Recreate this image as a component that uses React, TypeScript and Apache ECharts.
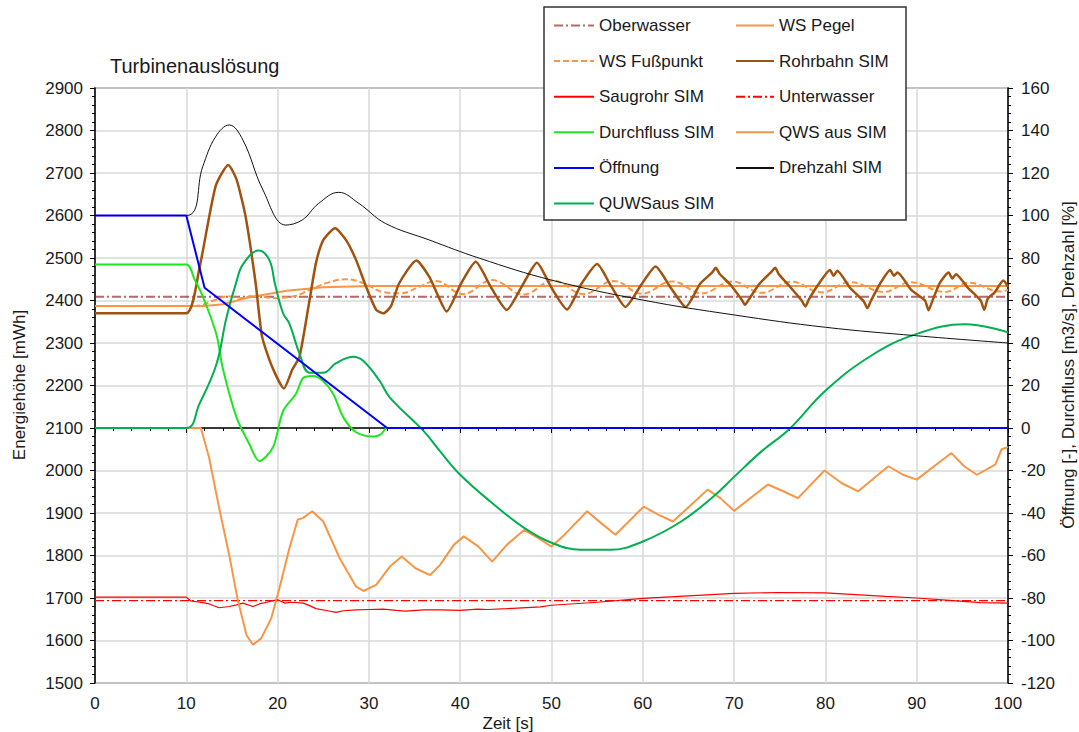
import React, { useEffect, useRef } from "react";
import * as echarts from "echarts";

// Zeitachse und Werte der einzelnen Messreihen (Zeit in s)
const oberwasserT = [0, 100];
const oberwasserV = [2409, 2409];

const unterwasserT = [0, 100];
const unterwasserV = [1694, 1694];

const wsPegelT = [0, 12, 14, 17, 21, 25, 30, 100];
const wsPegelV = [2387, 2387, 2391, 2408, 2423, 2431, 2434, 2434];

const wsFussT = [0, 11, 13, 14.5, 16, 17.5, 19.5, 21.8, 23.5, 25.5, 27.5, 29.5, 31.5, 33.5, 35.5, 37.3, 40.3, 43.5, 46.9, 50.2, 53.5, 56.8, 59.9, 63.2, 66.5, 69.8, 73.0, 76.3, 79.6, 82.7, 86.4, 89.3, 93.1, 95.7, 99.2, 100];
const wsFussV = [2387, 2387, 2400, 2410, 2406, 2411, 2406, 2410, 2425, 2442, 2450, 2440, 2420, 2417, 2432, 2446, 2415, 2448, 2414, 2447, 2415, 2446, 2416, 2445, 2417, 2445, 2418, 2444, 2419, 2443, 2420, 2443, 2420, 2442, 2421, 2425];

const rohrbahnT = [0, 10, 11.4, 13.2, 14.6, 15.5, 16.5, 17.6, 18.3, 19.4, 20.7, 21.6, 22.4, 23.5, 24.2, 25, 26.3, 27.5, 28.6, 29.7, 30.8, 31.6, 32.4, 33.3, 35.2, 36.6, 37.7, 38.5, 40.1, 41.7, 43.4, 45.1, 46.8, 48.4, 50, 51.7, 53.3, 55, 56.5, 58.1, 59.8, 61.4, 63, 64.7, 66.3, 67.6, 68, 68.4, 69.6, 70.8, 71.2, 71.6, 72.8, 74.1, 74.5, 74.9, 76.1, 77.4, 77.8, 78.2, 79.3, 80.5, 80.9, 81.3, 82.7, 84.2, 84.6, 85, 86, 87.1, 87.5, 87.9, 89.4, 90.9, 91.3, 91.7, 92.5, 93.5, 93.9, 94.3, 95.6, 97, 97.4, 97.8, 98.5, 99.5, 100];
const rohrbahnV = [2370, 2370, 2472, 2668, 2719, 2685, 2597, 2440, 2315, 2244, 2193, 2237, 2268, 2401, 2488, 2542, 2570, 2542, 2495, 2432, 2378, 2370, 2386, 2440, 2494, 2456, 2405, 2374, 2440, 2491, 2430, 2378, 2435, 2489, 2430, 2379, 2440, 2486, 2435, 2385, 2436, 2480, 2432, 2385, 2440, 2466, 2477, 2463, 2437, 2403, 2390, 2402, 2440, 2468, 2477, 2462, 2433, 2400, 2386, 2403, 2440, 2472, 2458, 2470, 2430, 2398, 2382, 2400, 2440, 2472, 2458, 2466, 2425, 2400, 2377, 2398, 2440, 2466, 2452, 2462, 2430, 2400, 2378, 2405, 2418, 2447, 2432];

const saugrohrT = [0, 10, 10.5, 11.8, 12.5, 13.6, 14.7, 15.5, 16.2, 17.3, 18, 18.8, 20, 20.8, 21.5, 22.8, 23.5, 24.2, 25.5, 26.4, 27.2, 28.6, 30, 31.6, 33, 34, 36, 37.8, 40, 41.9, 43, 45.1, 48.8, 50, 55, 60, 65, 70, 75, 80, 86.6, 90, 94, 97, 100];
const saugrohrV = [1702, 1702, 1693, 1689, 1686, 1677, 1680, 1684, 1688, 1680, 1686, 1690, 1696, 1688, 1690, 1688, 1682, 1675, 1670, 1666, 1670, 1672, 1673, 1674, 1671, 1669, 1672, 1672, 1671, 1674, 1673, 1675, 1679, 1683, 1690, 1699, 1705, 1711, 1713, 1712, 1704, 1700, 1694, 1689, 1688];

// rechte Achse: Öffnung, Durchfluss, Drehzahl
const durchflussT = [0, 10, 10.9, 11.8, 13.3, 14, 15.5, 16.9, 18, 19.5, 20.6, 22, 22.8, 23.9, 25, 26.1, 27.2, 28.6, 30.5, 31.3, 32, 100];
const durchflussV = [77, 77, 70, 62, 44, 28, 5, -7.5, -15.5, -9, 8, 16, 23.5, 24.5, 22, 16, 5, -2, -4, -3, 0, 0];

const oeffnungT = [0, 10, 12, 32, 100];
const oeffnungV = [100, 100, 66, 0, 0];

const drehzahlT = [0, 10, 11.8, 13.2, 14.7, 16.2, 18.4, 20.9, 22.7, 24.5, 26.7, 28.9, 31.8, 36.6, 42.1, 50, 60, 70, 80, 90, 100];
const drehzahlV = [100, 100, 123, 137, 142.6, 135.5, 112, 95.5, 97.9, 105.7, 110.9, 105.7, 96.3, 88.5, 79.9, 69.6, 60.2, 53.2, 47.4, 43.4, 40];

const quwsT = [0, 10, 11.4, 13.3, 14.4, 15.5, 16.2, 17.9, 19.1, 19.7, 20.6, 21.3, 22.4, 23.5, 25, 26.4, 28.3, 29.4, 31.2, 32.3, 36, 37.8, 40, 43.3, 47, 50, 53.2, 56.5, 60, 64.2, 67.8, 70, 73, 76, 80, 85, 90, 95.3, 100];
const quwsV = [0, 0, 11, 30, 52, 69, 77, 83.5, 79, 68, 54, 49, 35, 26, 26, 30.5, 33.5, 31.5, 22, 14.3, -1.5, -11, -22, -34.6, -47, -54, -57.3, -57.3, -53.4, -44, -32, -23, -11, -0.7, 17.5, 34, 44.3, 48.8, 45];

const qwsT = [0, 11.6, 12.5, 13.6, 14.7, 15.6, 16.6, 17.3, 18.2, 19.3, 20.2, 21.3, 22.2, 22.8, 23.8, 25, 26.8, 28.6, 29.4, 30.8, 32.3, 33.6, 35.1, 36.7, 37.8, 39.3, 40.4, 42, 43.5, 45.1, 47, 48.6, 50, 51.4, 53.9, 55.5, 57, 60.1, 61.8, 63.3, 67.1, 68.5, 70, 73.7, 75.5, 77, 79.9, 81.8, 83.6, 86.9, 88.5, 90, 93.8, 95.2, 96.6, 98.6, 99.3, 100];
const qwsV = [0, 0, -14, -37.7, -59.8, -80.2, -97.5, -102, -99, -89.6, -75.4, -56.5, -43.2, -42.3, -39.2, -44, -61.3, -74.7, -76.7, -73.8, -65.2, -60.5, -66, -69.2, -64.4, -55, -51, -55.8, -62.9, -55, -48, -52, -55.8, -50.3, -39.2, -45, -50.2, -37, -41, -44, -29, -33, -39, -26.6, -30, -33, -20, -26, -29.8, -18, -22, -24.3, -11.8, -18, -22, -17.2, -10, -9];

const xTicks = { min: 0, max: 100, interval: 10 };
const leftTicks = { min: 1500, max: 2900, interval: 100 };
const rightTicks = { min: -120, max: 160, interval: 20 };

const zip = (t: number[], v: number[]) => t.map((x, i) => [x, v[i]]);

const ORANGE = "#f79646";
const FONT = "'Liberation Sans', Arial, sans-serif";

export default function App() {
  const ref = useRef<HTMLDivElement>(null);

  useEffect(() => {
    if (!ref.current) return;
    const chart = echarts.init(ref.current, undefined, { renderer: "svg" });

    const line = (
      name: string,
      t: number[],
      v: number[],
      color: string,
      width: number,
      yAxisIndex: number,
      type: any = "solid",
      smooth: number | boolean = false,
      opacity = 1
    ) => ({
      name,
      type: "line",
      yAxisIndex,
      data: zip(t, v),
      symbol: "none",
      smooth,
      color,
      lineStyle: { color, width, type, opacity },
      emphasis: { disabled: true },
    });

    const axisCommon = {
      axisLine: { show: true, lineStyle: { color: "#000", width: 1.5 } },
      axisTick: { show: true, length: 5, lineStyle: { color: "#000", width: 1 } },
      minorTick: { show: true, splitNumber: 5, length: 3, lineStyle: { color: "#000", width: 1 } },
      axisLabel: {
        color: "#1a1a1a",
        fontSize: 17,
        fontFamily: FONT,
        formatter: (v: number) => String(v),
      },
    };

    const legendCommon = {
      top: 17,
      orient: "vertical",
      itemHeight: 14,
      itemGap: 18.6,
      padding: 0,
      z: 20,
      selectedMode: false,
      itemStyle: { opacity: 0 },
      textStyle: { fontSize: 17, color: "#1a1a1a", fontFamily: FONT },
    };

    chart.setOption({
      animation: false,
      textStyle: { fontFamily: FONT },
      grid: {
        left: 95,
        right: 71,
        top: 88,
        bottom: 49,
        show: true,
        borderColor: "#555",
        borderWidth: 1.5,
        backgroundColor: "transparent",
      },
      xAxis: {
        type: "value",
        ...xTicks,
        ...axisCommon,
        axisLabel: { ...axisCommon.axisLabel, margin: 12 },
        splitLine: { show: true, lineStyle: { color: "#d9d9d9", width: 1.5 } },
      },
      yAxis: [
        {
          type: "value",
          position: "left",
          ...leftTicks,
          ...axisCommon,
          axisLabel: { ...axisCommon.axisLabel, margin: 12 },
          splitLine: { show: true, lineStyle: { color: "#d9d9d9", width: 1.5 } },
        },
        {
          type: "value",
          position: "right",
          ...rightTicks,
          ...axisCommon,
          axisLabel: { ...axisCommon.axisLabel, margin: 13 },
          splitLine: { show: false },
        },
      ],
      legend: [
        {
          ...legendCommon,
          left: 553,
          itemWidth: 40,
          data: ["Oberwasser", "WS Fußpunkt", "Saugrohr SIM", "Durchfluss SIM", "Öffnung", "QUWSaus SIM"],
        },
        {
          ...legendCommon,
          left: 735,
          itemWidth: 38,
          data: ["WS Pegel", "Rohrbahn SIM", "Unterwasser", "QWS aus SIM", "Drehzahl SIM"],
        },
      ],
      graphic: [
        {
          type: "rect",
          z: 10,
          shape: { x: 544, y: 7, width: 362, height: 213 },
          style: { fill: "#fff", stroke: "#333", lineWidth: 1.5 },
        },
        {
          type: "text",
          x: 110,
          y: 66,
          style: {
            text: "Turbinenauslösung",
            fontSize: 20,
            fontFamily: FONT,
            fill: "#1a1a1a",
            textVerticalAlign: "middle",
          },
        },
        {
          type: "text",
          x: 19.5,
          y: 385,
          rotation: Math.PI / 2,
          style: {
            text: "Energiehöhe [mWh]",
            fontSize: 17,
            fontFamily: FONT,
            fill: "#1a1a1a",
            textAlign: "center",
            textVerticalAlign: "middle",
          },
        },
        {
          type: "text",
          x: 1068,
          y: 365,
          rotation: Math.PI / 2,
          style: {
            text: "Öffnung [-], Durchfluss [m3/s], Drehzahl [%]",
            fontSize: 17,
            fontFamily: FONT,
            fill: "#1a1a1a",
            textAlign: "center",
            textVerticalAlign: "middle",
          },
        },
        {
          type: "text",
          x: 508,
          y: 723,
          style: {
            text: "Zeit [s]",
            fontSize: 17,
            fontFamily: FONT,
            fill: "#1a1a1a",
            textAlign: "center",
            textVerticalAlign: "middle",
          },
        },
      ],
      series: [
        line("Oberwasser", oberwasserT, oberwasserV, "#8b1a1a", 2, 0, [9, 3, 2, 3], false, 0.65),
        line("Unterwasser", unterwasserT, unterwasserV, "#ff0000", 1.2, 0, [9, 3, 2, 3]),
        line("Saugrohr SIM", saugrohrT, saugrohrV, "#ff0000", 1.2, 0),
        line("WS Pegel", wsPegelT, wsPegelV, ORANGE, 2, 0),
        line("WS Fußpunkt", wsFussT, wsFussV, ORANGE, 2, 0, [6, 3], 0.4),
        line("QWS aus SIM", qwsT, qwsV, ORANGE, 2, 1),
        line("Rohrbahn SIM", rohrbahnT, rohrbahnV, "#a0520f", 2.5, 0, "solid", 0.2),
        line("Durchfluss SIM", durchflussT, durchflussV, "#1ee61e", 2, 1, "solid", 0.3),
        line("QUWSaus SIM", quwsT, quwsV, "#00b050", 2, 1, "solid", 0.4),
        line("Öffnung", oeffnungT, oeffnungV, "#0000ff", 2, 1),
        line("Drehzahl SIM", drehzahlT, drehzahlV, "#111111", 1, 1, "solid", 0.4),
      ],
    });

    return () => chart.dispose();
  }, []);

  return (
    <div
      ref={ref}
      style={{ position: "fixed", left: 0, top: 0, width: 1079, height: 732, background: "#fff" }}
    />
  );
}
